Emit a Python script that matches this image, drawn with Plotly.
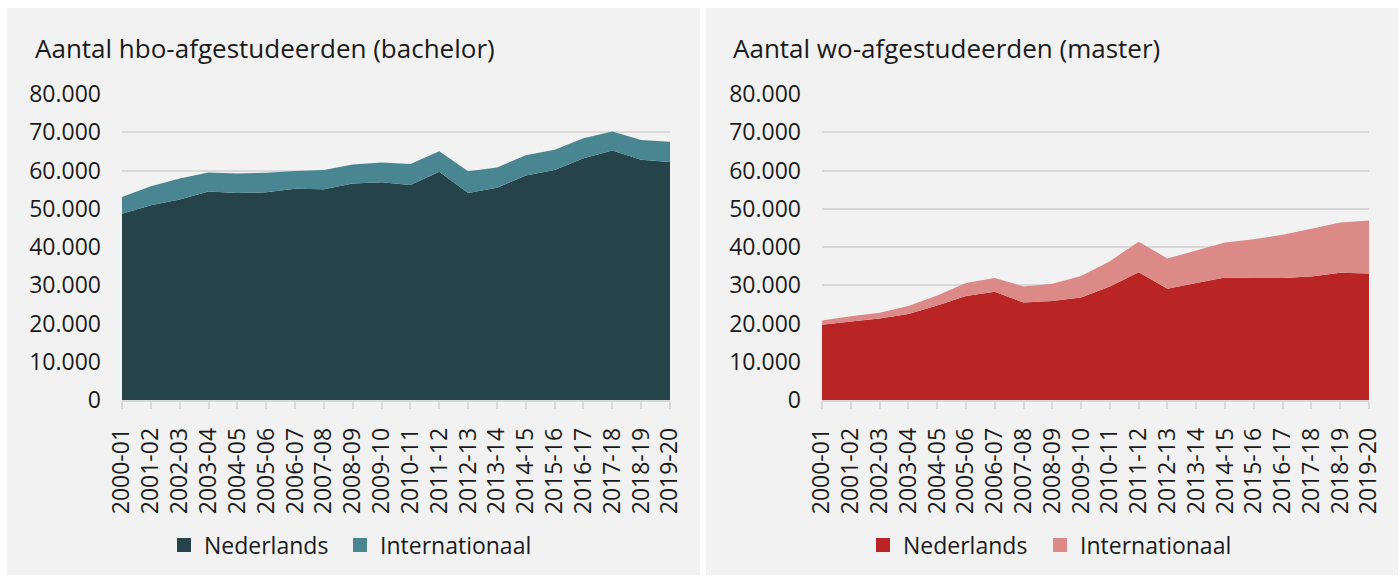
import plotly.graph_objects as go

years = ["2000-01", "2001-02", "2002-03", "2003-04", "2004-05", "2005-06", "2006-07",
         "2007-08", "2008-09", "2009-10", "2010-11", "2011-12", "2012-13", "2013-14",
         "2014-15", "2015-16", "2016-17", "2017-18", "2018-19", "2019-20"]

hbo_nl = [48700, 50900, 52400, 54500, 54100, 54300, 55200, 55100, 56600, 56900,
          56200, 59700, 54100, 55500, 58700, 60100, 63200, 65200, 62800, 62200]
hbo_total = [53100, 55900, 57900, 59500, 59200, 59400, 59900, 60100, 61600, 62100,
             61700, 65000, 59800, 60800, 64000, 65400, 68400, 70200, 68000, 67500]
hbo_int = [t - n for t, n in zip(hbo_total, hbo_nl)]

wo_nl = [19700, 20500, 21300, 22500, 24700, 27200, 28300, 25500, 25900, 26800,
         29700, 33400, 29100, 30600, 32000, 31900, 31900, 32300, 33300, 33100]
wo_total = [20800, 21900, 22800, 24600, 27300, 30600, 31900, 29700, 30400, 32400,
            36300, 41400, 37000, 39100, 41200, 42000, 43200, 44800, 46400, 46900]
wo_int = [t - n for t, n in zip(wo_total, wo_nl)]

titles = ["Aantal hbo-afgestudeerden (bachelor)", "Aantal wo-afgestudeerden (master)"]
series_names = ["Nederlands", "Internationaal"]
y_ticks = [0, 10000, 20000, 30000, 40000, 50000, 60000, 70000, 80000]

C_DARK = "#26434a"
C_TEAL = "#4a8692"
C_RED = "#b82524"
C_PINK = "#dc8a87"
GRID = "#d9d9d9"
PANEL = "#f2f2f2"
TEXT = "#1a1a1a"
FONT = "Open Sans"

W, H = 1400, 578


def px(x):
    return x / W


def py(y):
    return 1 - y / H


fig = go.Figure()

panels = [
    dict(nl=hbo_nl, intl=hbo_int, colors=(C_DARK, C_TEAL), xa="x", ya="y",
         legends=("legend", "legend2"), stack="a"),
    dict(nl=wo_nl, intl=wo_int, colors=(C_RED, C_PINK), xa="x2", ya="y2",
         legends=("legend3", "legend4"), stack="b"),
]

for p in panels:
    for name, vals, col, leg in zip(series_names, [p["nl"], p["intl"]], p["colors"],
                                    p["legends"]):
        fig.add_trace(go.Scatter(
            x=years, y=vals, name=name, mode="none", stackgroup=p["stack"],
            fillcolor=col, line=dict(width=0, color=col),
            xaxis=p["xa"], yaxis=p["ya"], showlegend=False, hoverinfo="x+y+name",
        ))
        fig.add_trace(go.Scatter(
            x=[None], y=[None], name=name, mode="markers",
            marker=dict(symbol="square", size=14, color=col),
            xaxis=p["xa"], yaxis=p["ya"], legend=leg, showlegend=True,
        ))

axis_common_x = dict(
    type="category", range=[0, 19], showgrid=False, showline=True, linecolor=GRID,
    linewidth=1.5, ticks="outside", ticklen=7, tickcolor=GRID, tickwidth=1.5,
    tickangle=-90, tickfont=dict(family=FONT, size=23, color=TEXT), fixedrange=True,
    ticklabelstandoff=10, automargin=False,
)
axis_common_y = dict(
    range=[0, 80000], tickvals=y_ticks, tickformat=",d", showgrid=True, gridcolor=GRID,
    gridwidth=1.5, zeroline=False, showline=False, ticks="",
    tickfont=dict(family=FONT, size=23, color=TEXT), ticklabelstandoff=20, fixedrange=True,
    automargin=False,
)

legend_common = dict(orientation="h", xanchor="left", yanchor="middle", y=py(545),
                     bgcolor="rgba(0,0,0,0)", font=dict(family=FONT, size=23, color=TEXT),
                     itemwidth=30)

fig.update_layout(
    width=W, height=H, autosize=False,
    margin=dict(l=0, r=0, t=0, b=0, pad=0, autoexpand=False),
    paper_bgcolor="white", plot_bgcolor="white", separators=",.",
    font=dict(family=FONT, color=TEXT),
    xaxis=dict(domain=[px(122), px(670)], anchor="y", **axis_common_x),
    yaxis=dict(domain=[py(400), py(94)], anchor="x", **axis_common_y),
    xaxis2=dict(domain=[px(822), px(1369)], anchor="y2", **axis_common_x),
    yaxis2=dict(domain=[py(400), py(94)], anchor="x2", **axis_common_y),
    legend=dict(x=px(164), **legend_common),
    legend2=dict(x=px(340), **legend_common),
    legend3=dict(x=px(863), **legend_common),
    legend4=dict(x=px(1040), **legend_common),
    shapes=[
        dict(type="rect", xref="paper", yref="paper", x0=px(7), x1=px(700), y0=py(575),
             y1=py(8), fillcolor=PANEL, line=dict(width=0), layer="below"),
        dict(type="rect", xref="paper", yref="paper", x0=px(706), x1=px(1398), y0=py(575),
             y1=py(8), fillcolor=PANEL, line=dict(width=0), layer="below"),
    ],
    annotations=[
        dict(text=titles[0], xref="paper", yref="paper", x=px(33), y=py(48),
             xanchor="left", yanchor="middle", showarrow=False,
             font=dict(family=FONT, size=26, color=TEXT)),
        dict(text=titles[1], xref="paper", yref="paper", x=px(731), y=py(48),
             xanchor="left", yanchor="middle", showarrow=False,
             font=dict(family=FONT, size=26, color=TEXT)),
    ],
)

fig.write_html(
    "out.html",
    post_script="document.body.style.margin='0';document.body.style.overflow='hidden';",
    config={"displayModeBar": False},
)
